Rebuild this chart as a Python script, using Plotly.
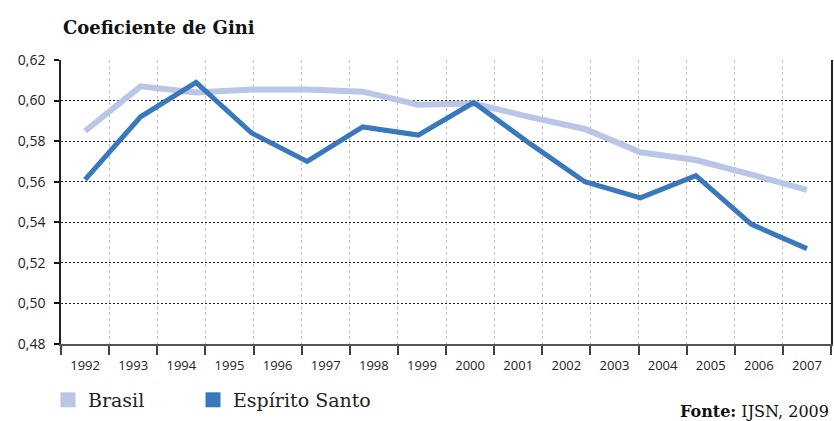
import numpy as np
import plotly.graph_objects as go

years = [str(y) for y in range(1992, 2008)]
survey_years = [1992, 1993, 1995, 1996, 1997, 1998, 1999, 2001, 2002, 2003, 2004, 2005, 2006, 2007]
brasil = [0.585, 0.607, 0.604, 0.6055, 0.6054, 0.6044, 0.598, 0.5985, 0.592, 0.586, 0.5745, 0.5707, 0.5635, 0.556]
espirito_santo = [0.561, 0.592, 0.609, 0.584, 0.570, 0.587, 0.583, 0.599, 0.579, 0.560, 0.552, 0.563, 0.539, 0.527]
y_ticks = [0.48, 0.50, 0.52, 0.54, 0.56, 0.58, 0.60, 0.62]

C_BR = "#bac6e6"
C_ES = "#3a78bd"

n_cat = len(years)
# points spread evenly from first to last category center
xpos = np.linspace(0, n_cat - 1, len(survey_years))

fig = go.Figure()
fig.add_trace(go.Scatter(x=xpos, y=brasil, mode="lines", line=dict(color=C_BR, width=6),
                         showlegend=False, hoverinfo="skip"))
fig.add_trace(go.Scatter(x=xpos, y=espirito_santo, mode="lines", line=dict(color=C_ES, width=5),
                         showlegend=False, hoverinfo="skip"))
# legend entries (square swatches)
fig.add_trace(go.Scatter(x=[None], y=[None], mode="markers", name="Brasil", legend="legend",
                         marker=dict(symbol="square", size=15, color=C_BR)))
fig.add_trace(go.Scatter(x=[None], y=[None], mode="markers", name="Espírito Santo", legend="legend2",
                         marker=dict(symbol="square", size=15, color=C_ES)))
# invisible trace on label axis
fig.add_trace(go.Scatter(x=[0], y=[None], xaxis="x2", showlegend=False, hoverinfo="skip"))

boundaries = [i - 0.5 for i in range(n_cat + 1)]

legend_common = dict(orientation="h", xanchor="left", y=0.05, yanchor="middle",
                     yref="container", xref="container", itemwidth=30,
                     font=dict(family="DejaVu Serif", size=19, color="#222"),
                     bgcolor="rgba(0,0,0,0)")

fig.update_layout(
    width=834, height=421,
    margin=dict(l=61, r=3, t=60, b=77),
    paper_bgcolor="white", plot_bgcolor="white",
    separators=", ",
    font=dict(family="Open Sans", size=13, color="#222"),
    xaxis=dict(range=[-0.5, n_cat - 0.5], tickvals=boundaries, ticktext=[""] * len(boundaries),
               ticks="outside", ticklen=9, tickwidth=2, tickcolor="#444",
               showline=True, linecolor="#555", linewidth=2,
               showgrid=True, gridcolor="#c4c4c4", griddash="3px,3px", gridwidth=1,
               zeroline=False, fixedrange=True, automargin=False),
    xaxis2=dict(range=[-0.5, n_cat - 0.5], overlaying="x", anchor="y", side="bottom",
                tickvals=list(range(n_cat)), ticktext=years, ticks="", showgrid=False,
                showline=False, zeroline=False, automargin=False, ticklabelstandoff=12,
                tickfont=dict(family="Open Sans", size=13, color="#222")),
    yaxis=dict(range=[0.48, 0.62], tickvals=y_ticks, tickformat=".2f",
               ticks="outside", ticklen=5, tickwidth=1.5, tickcolor="#111",
               showline=True, linecolor="#222", linewidth=1.5, mirror=True,
               showgrid=True, gridcolor="#222", griddash="2px,2px", gridwidth=1,
               zeroline=False, automargin=False, ticklabelstandoff=6, fixedrange=True,
               tickfont=dict(family="Open Sans", size=14, color="#222")),
    legend=dict(x=48 / 834, **legend_common),
    legend2=dict(x=193 / 834, **legend_common),
    annotations=[
        dict(text="<b>Coeficiente de Gini</b>", xref="paper", yref="paper", x=0, y=1,
             xanchor="left", yanchor="middle", yshift=33, xshift=0, showarrow=False,
             font=dict(family="DejaVu Serif", size=18, color="#111")),
        dict(text="<b>Fonte:</b> IJSN, 2009", xref="paper", yref="paper", x=1, y=0,
             xanchor="right", yanchor="middle", yshift=-67, showarrow=False,
             font=dict(family="DejaVu Serif", size=16, color="#111")),
    ],
)

fig.write_html("out.html", config={"displayModeBar": False},
               post_script="document.body.style.margin='0';")
